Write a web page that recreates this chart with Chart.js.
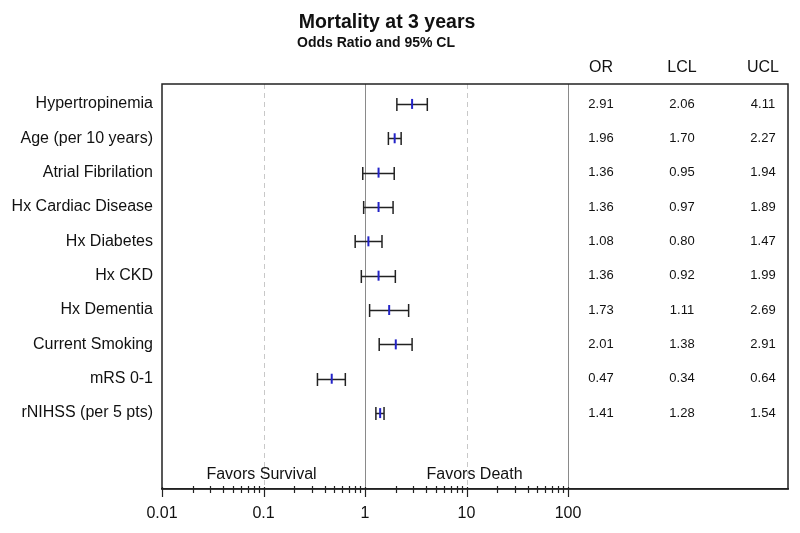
<!DOCTYPE html>
<html>
<head>
<meta charset="utf-8">
<script src="https://cdn.jsdelivr.net/npm/chart.js@4"></script>
<style>
    html, body { margin: 0; padding: 0; background: #fff; }
    #wrap { width: 800px; height: 533px; position: relative; }
</style>
</head>
<body>
<div id="wrap"><canvas id="forest"></canvas></div>
<script>
// 데이터
const categories = ['Hypertropinemia', 'Age (per 10 years)', 'Atrial Fibrilation', 'Hx Cardiac Disease',
    'Hx Diabetes', 'Hx CKD', 'Hx Dementia', 'Current Smoking', 'mRS 0-1', 'rNIHSS (per 5 pts)'];
const oddsRatio = [2.91, 1.96, 1.36, 1.36, 1.08, 1.36, 1.73, 2.01, 0.47, 1.41];
const lowerCL = [2.06, 1.70, 0.95, 0.97, 0.80, 0.92, 1.11, 1.38, 0.34, 1.28];
const upperCL = [4.11, 2.27, 1.94, 1.89, 1.47, 1.99, 2.69, 2.91, 0.64, 1.54];
const majorTicks = [0.01, 0.1, 1, 10, 100];
const tableHeaders = ['OR', 'LCL', 'UCL'];

const FONT = '"Liberation Sans", Arial, sans-serif';

// 0.01 ~ 100 사이 로그 눈금 (주 눈금 + 보조 눈금)
const logTicks = [];
for (let d = 0; d < majorTicks.length - 1; d++) {
    for (let m = 1; m < 10; m++) logTicks.push({ value: majorTicks[d] * m, major: m === 1 });
}
logTicks.push({ value: majorTicks[majorTicks.length - 1], major: true });

// 신뢰구간, 기준선, 표, 제목 그리기
const forestPlugin = {
    id: 'forest',
    beforeDatasetsDraw(chart) {
        const { ctx, chartArea: a, scales: { x } } = chart;
        ctx.save();
        // 기준선
        majorTicks.forEach(v => {
            if (v === majorTicks[0]) return;
            const px = Math.round(x.getPixelForValue(v)) + 0.5;
            const solid = v === 1 || v === 100;
            ctx.strokeStyle = solid ? '#8a8a8a' : '#c8c8c8';
            ctx.lineWidth = 1;
            ctx.setLineDash(solid ? [] : [5, 4]);
            ctx.beginPath();
            ctx.moveTo(px, a.top);
            ctx.lineTo(px, a.bottom);
            ctx.stroke();
        });
        ctx.setLineDash([]);
        ctx.restore();
    },
    afterDatasetsDraw(chart) {
        const { ctx, chartArea: a, scales: { x, y } } = chart;
        ctx.save();
        // 오차 막대
        ctx.strokeStyle = '#222';
        ctx.lineWidth = 1.5;
        categories.forEach((c, i) => {
            const py = Math.round(y.getPixelForValue(i)) + 0.5;
            const x0 = x.getPixelForValue(lowerCL[i]);
            const x1 = x.getPixelForValue(upperCL[i]);
            ctx.beginPath();
            ctx.moveTo(x0, py); ctx.lineTo(x1, py);
            ctx.moveTo(x0, py - 6.5); ctx.lineTo(x0, py + 6.5);
            ctx.moveTo(x1, py - 6.5); ctx.lineTo(x1, py + 6.5);
            ctx.stroke();
        });
        // OR 표시
        ctx.strokeStyle = '#2323c8';
        ctx.lineWidth = 2;
        categories.forEach((c, i) => {
            const py = y.getPixelForValue(i);
            const px = x.getPixelForValue(oddsRatio[i]);
            ctx.beginPath();
            ctx.moveTo(px, py - 5); ctx.lineTo(px, py + 5);
            ctx.stroke();
        });

        // 표
        const cols = [601, 682, 763];
        ctx.fillStyle = '#111';
        ctx.textAlign = 'center';
        ctx.textBaseline = 'middle';
        ctx.font = '16px ' + FONT;
        tableHeaders.forEach((h, j) => ctx.fillText(h, cols[j], 68));
        ctx.font = '13px ' + FONT;
        categories.forEach((c, i) => {
            const py = y.getPixelForValue(i);
            [oddsRatio[i], lowerCL[i], upperCL[i]].forEach((v, j) => {
                ctx.fillText(v.toFixed(2), cols[j], py);
            });
        });

        // 방향 표시
        ctx.font = '16px ' + FONT;
        ctx.fillText('Favors Survival', x.getPixelForValue(0.1) - 2, 475);
        ctx.fillText('Favors Death', x.getPixelForValue(10) + 8, 475);

        // 제목
        ctx.font = 'bold 19.5px ' + FONT;
        ctx.fillText('Mortality at 3 years', 387, 23);
        ctx.font = 'bold 14px ' + FONT;
        ctx.fillText('Odds Ratio and 95% CL', 376, 43);

        // 테두리
        ctx.strokeStyle = '#222';
        ctx.lineWidth = 1.5;
        ctx.strokeRect(a.left, a.top, a.right - a.left, a.bottom - a.top);

        // x축 눈금 (주 눈금은 길게)
        ctx.lineWidth = 1.2;
        logTicks.forEach(t => {
            const px = Math.round(x.getPixelForValue(t.value)) + 0.5;
            ctx.beginPath();
            ctx.moveTo(px, a.bottom - (t.major ? 2 : 3));
            ctx.lineTo(px, a.bottom + (t.major ? 8 : 4));
            ctx.stroke();
        });
        ctx.restore();
    }
};

new Chart(document.getElementById('forest'), {
    type: 'scatter',
    data: {
        datasets: [{
            data: oddsRatio.map((v, i) => ({ x: v, y: i })),
            pointRadius: 0,
            showLine: false
        }]
    },
    options: {
        responsive: true,
        maintainAspectRatio: false,
        animation: false,
        layout: { padding: { top: 84, right: 12, left: 0, bottom: 0 } },
        plugins: { legend: { display: false }, tooltip: { enabled: false } },
        scales: {
            x: {
                type: 'logarithmic',
                min: 0.01,
                max: 14700,
                afterBuildTicks: s => { s.ticks = logTicks.map(t => ({ ...t })); },
                afterFit: s => { s.height = 44; },
                ticks: {
                    autoSkip: false,
                    maxRotation: 0,
                    padding: 15,
                    color: '#111',
                    font: { family: FONT, size: 16 },
                    callback: (v) => majorTicks.includes(v) ? String(v) : ''
                },
                grid: { display: false, drawTicks: false },
                border: { display: true, color: '#222', width: 1.5 }
            },
            y: {
                type: 'linear',
                reverse: true,
                min: -0.58,
                max: 11.21,
                afterBuildTicks: s => { s.ticks = categories.map((c, i) => ({ value: i })); },
                afterFit: s => { s.width = 162; },
                ticks: {
                    autoSkip: false,
                    padding: 9,
                    color: '#111',
                    font: { family: FONT, size: 16 },
                    callback: (v) => categories[v] ?? ''
                },
                grid: { display: false, drawTicks: false },
                border: { display: false }
            }
        }
    },
    plugins: [forestPlugin]
});
</script>
</body>
</html>
